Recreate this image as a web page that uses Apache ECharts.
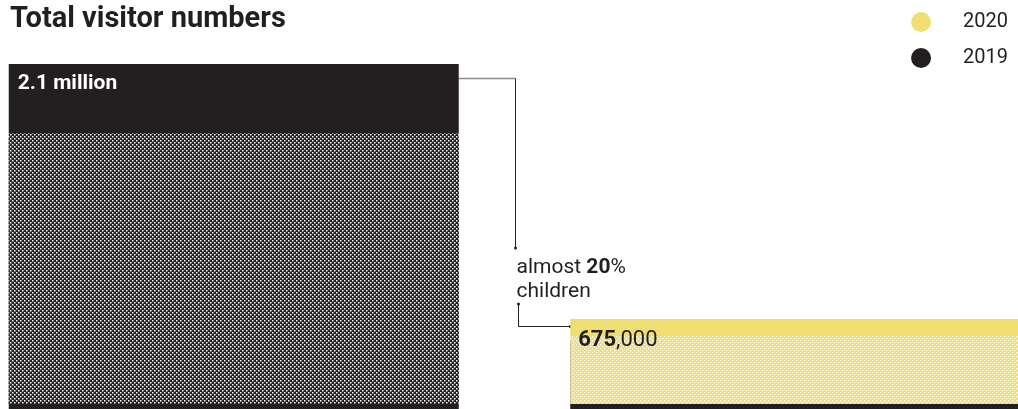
<!DOCTYPE html>
<html>
<head>
<meta charset="utf-8">
<script src="https://cdn.jsdelivr.net/npm/echarts@6/dist/echarts.min.js"></script>
<style>
html,body{margin:0;padding:0;background:#fff;}
#c{width:1018px;height:409px;}
</style>
</head>
<body>
<div id="c"></div>
<script>
// ---- data ----
const categories = ['2019', '2020'];
const totals = [2100000, 675000];
const totalLabels = ['2.1 million', '{b|675},000'];
const childrenValues = [385000, 95000];   // solid top band
const adultValues = [1715000, 580000];    // hatched part
const legendNames = ['2020', '2019'];
const titleText = 'Total visitor numbers';
const noteText = 'almost {b|20}%\nchildren';

const DARK = '#231f20';
const YELLOW = '#efdf73';
const FONT = 'Roboto';

function makePattern(bg, fg, rects, size) {
  const c = document.createElement('canvas');
  c.width = size; c.height = size;
  const g = c.getContext('2d');
  g.fillStyle = bg; g.fillRect(0, 0, size, size);
  g.fillStyle = fg;
  rects.forEach(r => g.fillRect(r[0], r[1], r[2], r[3]));
  return c;
}
const darkPat = makePattern(DARK, '#ffffff', [[0, 0, 1.5, 1.5], [2, 2, 1.5, 1.5]], 4);
const yellowPat = makePattern(YELLOW, '#ffffff', [[0, 0, 1.3, 1.3], [2, 2, 1.3, 1.3]], 4);

const chart = echarts.init(document.getElementById('c'), null, {renderer: 'canvas'});
const BW = 450;

function seriesFor(yearIdx, values, color, withShadow, label) {
  const data = categories.map((_, i) => i === yearIdx ? values[yearIdx] : '-');
  const s = {
    name: categories[yearIdx],
    type: 'bar',
    stack: 'total',
    barWidth: BW,
    data: data,
    silent: true,
    itemStyle: {color: color},
    label: {show: false}
  };
  if (withShadow) {
    s.itemStyle.shadowColor = DARK;
    s.itemStyle.shadowOffsetY = 5;
    s.itemStyle.shadowBlur = 0;
  }
  if (label) s.label = label;
  return s;
}

chart.setOption({
  animation: false,
  backgroundColor: '#ffffff',
  title: {
    text: titleText,
    left: 5, top: 0,
    textStyle: {fontFamily: FONT, fontSize: 29, fontWeight: 'bold', color: DARK}
  },
  legend: {
    data: [
      {name: legendNames[0], itemStyle: {color: YELLOW}},
      {name: legendNames[1], itemStyle: {color: DARK}}
    ],
    orient: 'vertical',
    right: 5, top: 7,
    icon: 'circle',
    itemWidth: 20, itemHeight: 20, itemGap: 16,
    selectedMode: false,
    textStyle: {fontFamily: FONT, fontSize: 20, color: DARK, padding: [0, 0, 0, 27]}
  },
  grid: {left: -47, right: -58, top: 64, bottom: 5, containLabel: false, outerBoundsMode: 'none'},
  xAxis: {type: 'category', data: categories, show: false},
  yAxis: {type: 'value', min: 200000, max: totals[0], show: false, splitLine: {show: false}},
  series: [
    seriesFor(0, adultValues, {image: darkPat, repeat: 'repeat'}, true),
    seriesFor(0, childrenValues, DARK, false, {
      show: true, position: [9, 8], formatter: () => totalLabels[0],
      fontFamily: FONT, fontSize: 21, fontWeight: 'bold', color: '#ffffff', lineHeight: 24
    }),
    seriesFor(1, adultValues, {image: yellowPat, repeat: 'repeat'}, true),
    seriesFor(1, childrenValues, YELLOW, false, {
      show: true, position: [8, 9], formatter: () => totalLabels[1],
      fontFamily: FONT, fontSize: 22, color: DARK, lineHeight: 24,
      rich: {b: {fontFamily: FONT, fontSize: 22, fontWeight: 'bold', color: DARK, lineHeight: 24}}
    })
  ]
});

// annotation connectors, positioned from the bars' own geometry
const p1 = chart.convertToPixel({xAxisIndex: 0, yAxisIndex: 0}, [0, totals[0]]);
const p2 = chart.convertToPixel({xAxisIndex: 0, yAxisIndex: 0}, [1, totals[1]]);
const b1r = p1[0] + BW / 2;
const b2l = p2[0] - BW / 2;
const gx = Math.round((b1r + b2l) / 2) + 0.5;
const top1 = p1[1], top2 = p2[1];
const y1 = Math.round(top1 + 14) + 0.5;
const yEnd1 = top2 - 71;
const y2s = top2 - 15;
const y2 = Math.round(top2 + 7) + 0.5;

chart.setOption({
  graphic: [
    {type: 'line', shape: {x1: b1r, y1: y1, x2: gx, y2: y1}, style: {stroke: '#8c8c8c', lineWidth: 1.5}, silent: true},
    {type: 'line', shape: {x1: gx, y1: y1, x2: gx, y2: yEnd1}, style: {stroke: DARK, lineWidth: 1}, silent: true},
    {type: 'circle', shape: {cx: gx, cy: yEnd1, r: 1.5}, style: {fill: DARK}, silent: true},
    {type: 'text', x: gx + 1, y: top2 - 63, silent: true,
      style: {text: noteText, fontFamily: FONT, fontSize: 21, fill: DARK, lineHeight: 24,
        rich: {b: {fontFamily: FONT, fontSize: 21, fontWeight: 'bold', fill: DARK, lineHeight: 24}}}},
    {type: 'circle', shape: {cx: gx + 3, cy: y2s, r: 1.5}, style: {fill: DARK}, silent: true},
    {type: 'line', shape: {x1: gx + 3, y1: y2s, x2: gx + 3, y2: y2}, style: {stroke: DARK, lineWidth: 1}, silent: true},
    {type: 'line', shape: {x1: gx + 3, y1: y2, x2: b2l, y2: y2}, style: {stroke: DARK, lineWidth: 1}, silent: true},
    {type: 'circle', shape: {cx: b2l, cy: y2, r: 1.5}, style: {fill: DARK}, silent: true}
  ]
});
</script>
</body>
</html>
